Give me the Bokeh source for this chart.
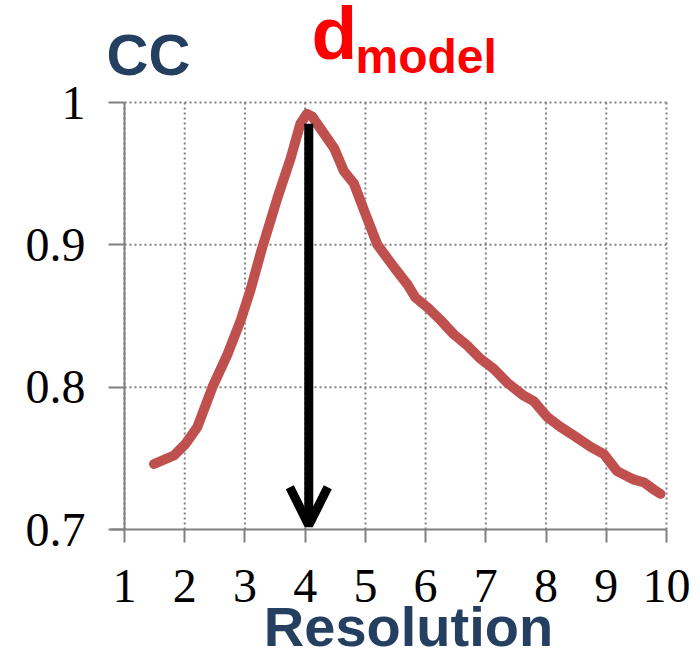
from bokeh.plotting import figure
from bokeh.models import Range1d, FixedTicker, Label, Arrow, OpenHead, ColumnDataSource
from bokeh.embed import file_html
from bokeh.resources import INLINE

# Data
res_x = [1.49, 1.82, 2.01, 2.21, 2.46, 2.71, 2.93, 3.09, 3.28, 3.54, 3.76, 3.92, 4.03,
         4.12, 4.20, 4.48, 4.64, 4.81, 4.98, 5.20, 5.48, 5.70, 5.83, 6.03, 6.25, 6.47, 6.70,
         6.91, 7.13, 7.36, 7.63, 7.80, 8.02, 8.24, 8.46, 8.74, 8.96, 9.18, 9.46, 9.63,
         9.79, 9.90]
cc_y = [0.746, 0.752, 0.760, 0.772, 0.800, 0.823, 0.847, 0.868, 0.897, 0.933, 0.961, 0.985, 0.992,
        0.990, 0.985, 0.968, 0.952, 0.943, 0.924, 0.900, 0.884, 0.872, 0.863, 0.856, 0.847, 0.837, 0.829,
        0.820, 0.813, 0.803, 0.794, 0.790, 0.779, 0.772, 0.766, 0.758, 0.753, 0.741, 0.735, 0.733,
        0.728, 0.725]
x_ticks = [1, 2, 3, 4, 5, 6, 7, 8, 9, 10]
y_ticks = [0.7, 0.8, 0.9, 1.0]
y_tick_labels = ["0.7", "0.8", "0.9", "1"]
arrow_x = 4.06
arrow_y_start = 0.985
arrow_y_end = 0.703

# ---- layout (pixels of the 700x652 page)
W, H = 700, 652
FL = 108                      # frame left edge (y axis ticks start here)
PX0, PX1 = 124, 666           # pixel positions of x = 1 and x = 10
PY0, PY1 = 529, 102           # pixel positions of y = 0.7 and y = 1.0
kx = (PX1 - PX0) / (x_ticks[-1] - x_ticks[0])
ky = (PY0 - PY1) / (y_ticks[-1] - y_ticks[0])
x_lo = x_ticks[0] - (PX0 - FL) / kx
x_hi = x_ticks[-1] + (W - PX1) / kx
y_lo = y_ticks[0] - (H - PY0) / ky
y_hi = y_ticks[-1] + PY1 / ky

navy = "#243F60"
red_txt = "#FF0000"
grid_color = "#808080"

p = figure(width=W, height=H, output_backend="svg", toolbar_location=None, title=None,
           x_range=Range1d(x_lo, x_hi), y_range=Range1d(y_lo, y_hi),
           x_axis_location="above",
           min_border_left=FL, min_border_right=0, min_border_top=0, min_border_bottom=0)
p.outline_line_color = None
p.xgrid.visible = False
p.ygrid.visible = False

for ax in (p.xaxis, p.yaxis):
    ax.major_tick_line_color = grid_color
    ax.major_tick_line_width = 2
    ax.minor_tick_line_color = None
    ax.major_label_text_font = "Liberation Serif"
    ax.major_label_text_font_size = "48px"
    ax.major_label_text_color = "black"

# x axis drawn at y = 0.7 with ticks and labels pointing down
p.xaxis.fixed_location = y_ticks[0]
p.xaxis.ticker = FixedTicker(ticks=x_ticks)
p.xaxis.axis_line_color = grid_color
p.xaxis.axis_line_width = 2
p.xaxis.major_tick_out = 0
p.xaxis.major_tick_in = 13
p.xaxis.major_label_standoff = -72
p.xaxis.bounds = (x_ticks[0] - 14 / kx, x_ticks[-1])

# y axis at the frame edge, ticks running in to x = 1
p.yaxis.ticker = FixedTicker(ticks=y_ticks)
p.yaxis.major_label_overrides = {t: s for t, s in zip(y_ticks, y_tick_labels)}
p.yaxis.axis_line_color = None
p.yaxis.major_tick_out = 0
p.yaxis.major_tick_in = PX0 - FL
p.yaxis.major_label_standoff = 23

# dotted grid limited to the data area
n = len(x_ticks)
p.segment(x0=x_ticks, y0=[y_ticks[0]] * n, x1=x_ticks, y1=[y_ticks[-1]] * n,
          line_color=grid_color, line_width=2, line_dash="2 3")
m = len(y_ticks) - 1
p.segment(x0=[x_ticks[0]] * m, y0=y_ticks[1:], x1=[x_ticks[-1]] * m, y1=y_ticks[1:],
          line_color=grid_color, line_width=2, line_dash="2 3")
# solid vertical axis line at x = 1
p.segment(x0=[x_ticks[0]], y0=[y_ticks[0]], x1=[x_ticks[0]], y1=[y_ticks[-1]],
          line_color=grid_color, line_width=2)

src = ColumnDataSource(dict(x=res_x, y=cc_y))
p.line("x", "y", source=src, line_color="#C0504D", line_width=10, line_cap="round", line_join="round")

p.add_layout(Arrow(end=OpenHead(size=38, line_width=9, line_color="black"),
                   x_start=arrow_x, y_start=arrow_y_start, x_end=arrow_x, y_end=arrow_y_end,
                   line_width=9, line_color="black"))

def add_text(text, page_x, baseline_y, size, color, align="left"):
    center_y = baseline_y - 0.39 * size
    p.add_layout(Label(x=page_x - FL, y=H - center_y, x_units="screen", y_units="screen",
                       text=text, text_font="Liberation Sans", text_font_style="bold",
                       text_font_size=f"{size}px", text_color=color,
                       text_baseline="middle", text_align=align))

add_text("CC", 106, 77, 58, navy)
add_text("d", 311, 62, 75, red_txt)
add_text("model", 355, 75, 48, red_txt)
add_text("Resolution", 408, 648, 56, navy, align="center")

open("out.html", "w").write(file_html(p, INLINE))
